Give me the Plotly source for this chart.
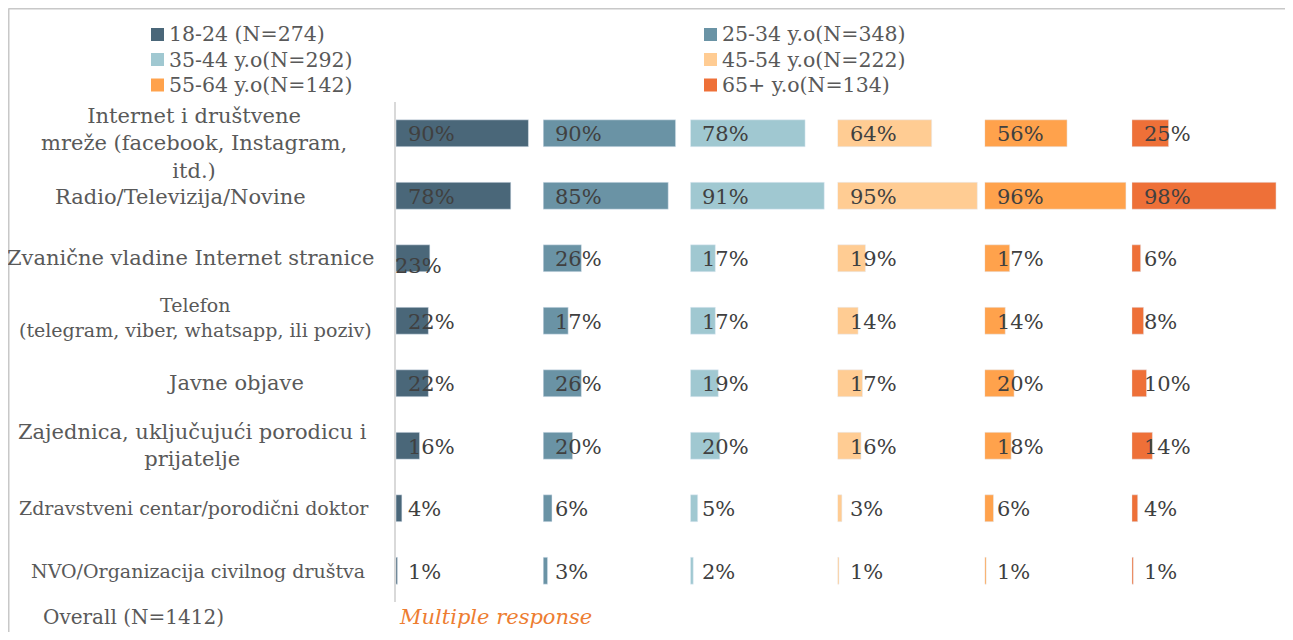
import plotly.graph_objects as go
from plotly.subplots import make_subplots

# Kategorije (izvori informacija) i starosne grupe.
categories = [
    "Internet i društvene mreže (facebook, Instagram, itd.)",
    "Radio/Televizija/Novine",
    "Zvanične vladine Internet stranice",
    "Telefon (telegram, viber, whatsapp, ili poziv)",
    "Javne objave",
    "Zajednica, uključujući porodicu i prijatelje",
    "Zdravstveni centar/porodični doktor",
    "NVO/Organizacija civilnog društva",
]
category_labels = [
    "Internet i društvene<br>mreže (facebook, Instagram,<br>itd.)",
    "Radio/Televizija/Novine",
    "Zvanične vladine Internet stranice",
    "Telefon<br>(telegram, viber, whatsapp, ili poziv)",
    "Javne objave",
    "Zajednica, uključujući porodicu i<br>prijatelje",
    "Zdravstveni centar/porodični doktor",
    "NVO/Organizacija civilnog društva",
]
groups = [
    "18-24 (N=274)",
    "25-34 y.o(N=348)",
    "35-44 y.o(N=292)",
    "45-54 y.o(N=222)",
    "55-64 y.o(N=142)",
    "65+ y.o(N=134)",
]

# Procenti po grupi (isti redoslijed kao categories).
age_18_24 = [90, 78, 23, 22, 22, 16, 4, 1]
age_25_34 = [90, 85, 26, 17, 26, 20, 6, 3]
age_35_44 = [78, 91, 17, 17, 19, 20, 5, 2]
age_45_54 = [64, 95, 19, 14, 17, 16, 3, 1]
age_55_64 = [56, 96, 17, 14, 20, 18, 6, 1]
age_65_plus = [25, 98, 6, 8, 10, 14, 4, 1]
series = [age_18_24, age_25_34, age_35_44, age_45_54, age_55_64, age_65_plus]

colors = ["#4A6779", "#6A93A5", "#A0C8D1", "#FFCC93", "#FFA24C", "#EE7038"]

# Stranica ima marginu od 8px, pa je figura manja za 16px.
W, H = 1277, 624
FONT = "Georgia, 'DejaVu Serif', serif"
TXT = "#404040"
GREY = "#595959"


def px(sx):
    return (sx - 8) / W


def py(sy):
    return 1 - (sy - 8) / H


fig = make_subplots(rows=1, cols=6, shared_yaxes=True, horizontal_spacing=0)

for i, (name, vals, col) in enumerate(zip(groups, series, colors)):
    fig.add_trace(
        go.Bar(x=vals, y=categories, orientation="h", name=name,
               marker_color=col, showlegend=False),
        row=1, col=i + 1,
    )
    # Oznake vrijednosti (kao Excel "inside base").
    for k, (cat, v) in enumerate(zip(categories, vals)):
        odd = (i == 0 and k == 2)  # pomjerena oznaka u originalu
        fig.add_annotation(
            x=0, y=cat, xref=f"x{i + 1 if i else ''}", yref="y",
            text=f"{v}%", showarrow=False, xanchor="left", yanchor="middle",
            xshift=-3 if odd else 10, yshift=-8 if odd else -1,
            font=dict(family=FONT, size=21, color=TXT),
        )

# Domeni panela.
left, right = 396, 1279
step = (right - left) / 6
for i in range(6):
    key = "xaxis" if i == 0 else f"xaxis{i + 1}"
    fig.layout[key].update(
        domain=[px(left + i * step), px(left + (i + 1) * step)],
        range=[0, 100], visible=False, fixedrange=True,
    )

fig.update_yaxes(domain=[py(602), py(102)], categoryorder="array",
                 categoryarray=categories, range=[7.5, -0.5],
                 autorange=False, showticklabels=False, showgrid=False,
                 zeroline=False)
fig.update_yaxes(showline=True, linecolor="#D9D9D9", linewidth=2, row=1, col=1)

# Nazivi kategorija, centrirani lijevo od grafika.
sizes = [21, 21, 21, 19, 21, 21, 19, 19]
centers = [194, 180, 191, 195, 235, 192, 194, 198]
shifts = [-10, -1, 0, 3, 0, 0, 0, 0]
for k, (cat, lab) in enumerate(zip(categories, category_labels)):
    fig.add_annotation(
        x=px(centers[k]), y=cat, xref="paper", yref="y", text=lab,
        showarrow=False, xanchor="center", yanchor="middle", align="center",
        yshift=shifts[k],
        font=dict(family=FONT, size=sizes[k], color=GREY),
    )

# Legenda u dvije kolone (kvadrat + tekst).
leg_x = [151, 704]
leg_y = [34.5, 59.5, 85]
for n, (name, col) in enumerate(zip(groups, colors)):
    lx, ly = leg_x[n % 2], leg_y[n // 2]
    fig.add_shape(type="rect", xref="paper", yref="paper",
                  x0=px(lx), x1=px(lx + 13), y0=py(ly + 6.5), y1=py(ly - 6.5),
                  fillcolor=col, line_width=0)
    fig.add_annotation(x=px(lx + 16), y=py(ly), xref="paper", yref="paper",
                       text=name, showarrow=False, xanchor="left",
                       yanchor="middle",
                       font=dict(family=FONT, size=20.5, color=GREY))

fig.add_annotation(x=px(133), y=py(617), xref="paper", yref="paper",
                   text="Overall (N=1412)", showarrow=False,
                   xanchor="center", yanchor="middle",
                   font=dict(family=FONT, size=20, color=GREY))
fig.add_annotation(x=px(397), y=py(617), xref="paper", yref="paper",
                   text="<i>Multiple response</i>", showarrow=False,
                   xanchor="left", yanchor="middle",
                   font=dict(family=FONT, size=21, color="#ED7D31"))

# Okvir: gornja i lijeva linija (ostatak izlazi iz slike).
frame = dict(color="#C8C8C8", width=2)
fig.add_shape(type="line", xref="paper", yref="paper", x0=0.5 / W, x1=1.0,
              y0=1 - 0.5 / H, y1=1 - 0.5 / H, line=frame)
fig.add_shape(type="line", xref="paper", yref="paper", x0=0.5 / W,
              x1=0.5 / W, y0=0, y1=1 - 0.5 / H, line=frame)

fig.update_layout(
    width=W, height=H, margin=dict(l=0, r=0, t=0, b=0),
    paper_bgcolor="white", plot_bgcolor="white",
    bargap=0.57, showlegend=False,
)

fig.write_html("out.html")
